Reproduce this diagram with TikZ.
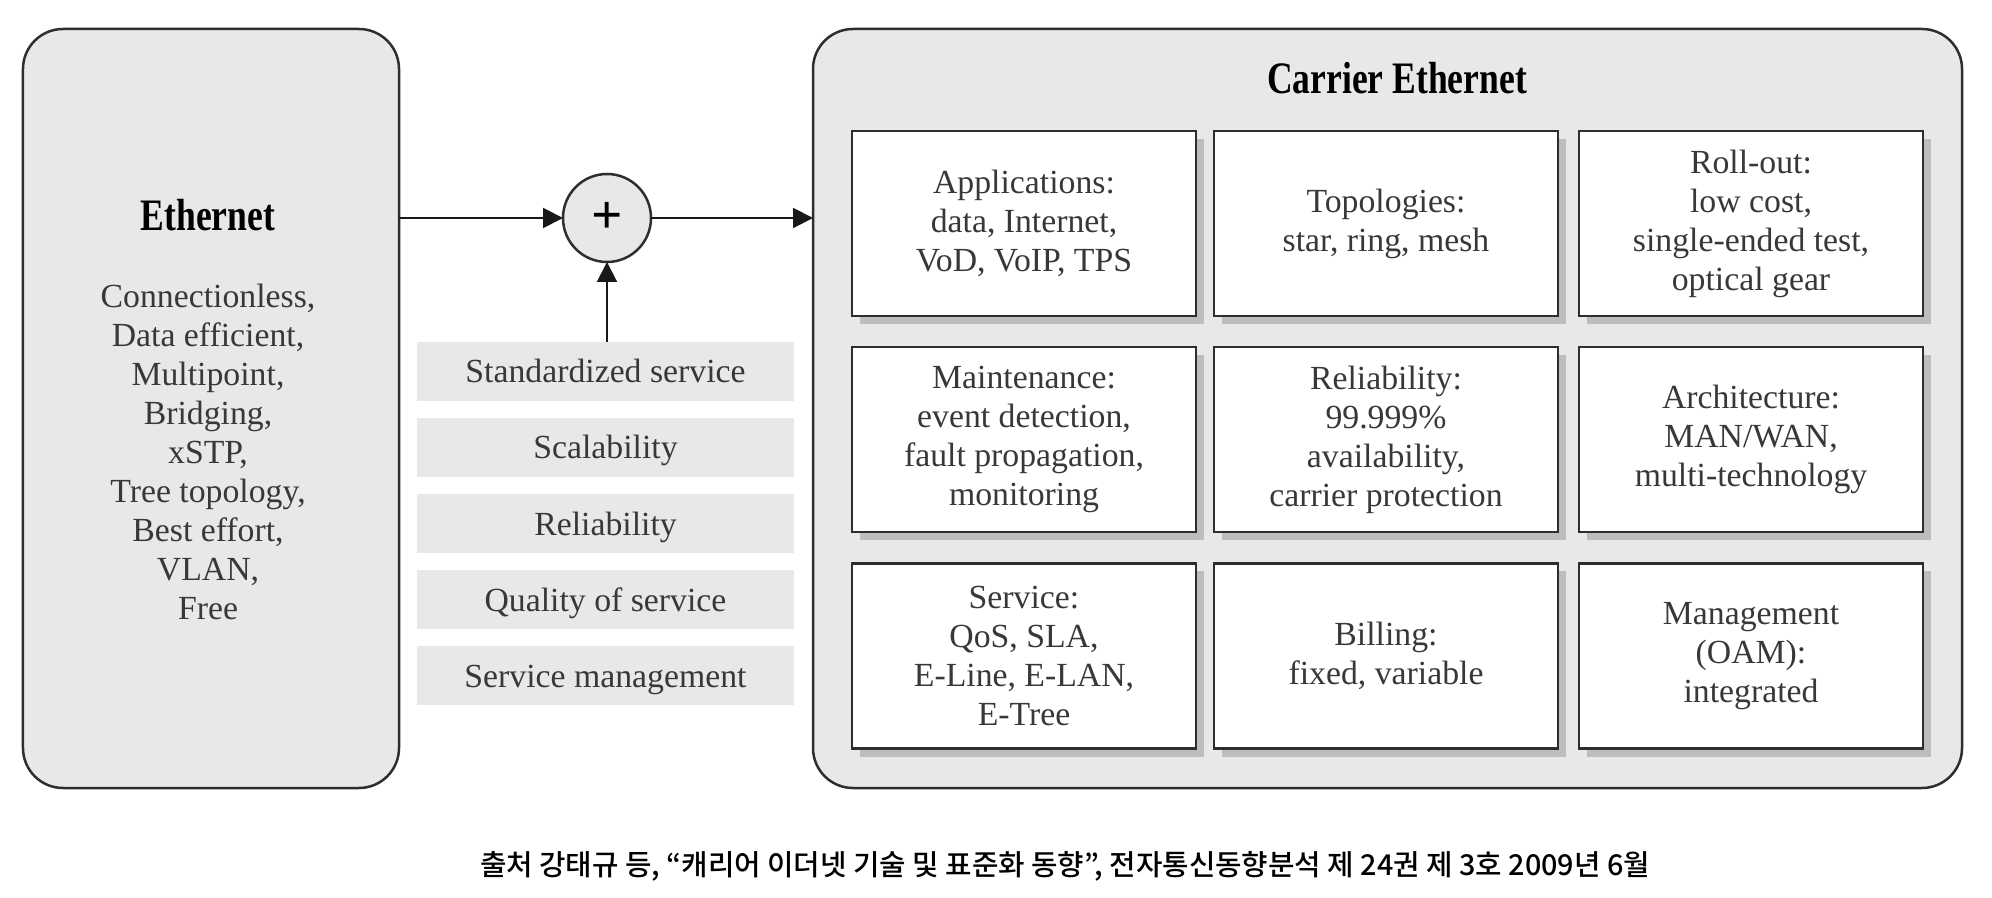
\documentclass[tikz,border=0pt]{standalone}
\usepackage{fontspec}
\usepackage{graphicx}
\setmainfont{Liberation Serif}
\newfontfamily\krfont{Noto Sans CJK KR Medium}
\usetikzlibrary{arrows.meta,shadows}
\definecolor{boxfill}{HTML}{E8E8E8}
\definecolor{edgec}{HTML}{2E2E2E}
\definecolor{shadowc}{HTML}{BDBDBD}
\definecolor{txtc}{HTML}{383838}
\newcommand\myBody{\fontsize{13.5}{15.6}\selectfont}
\newcommand\myTitle{\fontsize{18}{20}\selectfont\bfseries}
\begin{document}
\begin{tikzpicture}[x=0.4pt,y=-0.4pt,
  bigbox/.style={draw=edgec, line width=1pt, fill=boxfill, rounded corners=16pt, inner sep=0pt, outer sep=0pt},
  gridbox/.style={draw=edgec, line width=1pt, fill=white, minimum width=137.6pt, minimum height=74pt,
    inner sep=0pt, outer sep=0pt, align=center, text=txtc, font=\myBody,
    drop shadow={shadow xshift=3.2pt, shadow yshift=-3.2pt, fill=shadowc, opacity=1}},
  featbox/.style={fill=boxfill, minimum width=150.8pt, minimum height=23.6pt, inner sep=0pt, outer sep=0pt,
    text=txtc, font=\myBody, text height=9.2pt, text depth=0pt},
  titletext/.style={font=\myTitle, text=black, inner sep=0pt},
  arr/.style={draw=black!90, line width=0.8pt, -{Triangle[length=8pt,width=8pt]}}]
\useasboundingbox (0,0) rectangle (1992,898);

% left box
\node[bigbox, minimum width=150.4pt, minimum height=303.6pt] (eth) at (211,408.5) {};
\node[titletext] (ethtitle) at (208,215) {\scalebox{0.79}[1]{Ethernet}};
\node[align=center, text=txtc, font=\myBody, inner sep=0pt] (ethlist) at (208,452)
  {Connectionless,\\Data efficient,\\Multipoint,\\Bridging,\\xSTP,\\Tree topology,\\Best effort,\\VLAN,\\Free};

% right box
\node[bigbox, minimum width=459.6pt, minimum height=303.6pt] (ce) at (1387.5,408.5) {};
\node[titletext] (cetitle) at (1397,78) {\scalebox{0.79}[1]{Carrier Ethernet}};

% circle
\node[circle, draw=edgec, line width=1pt, fill=boxfill, minimum size=35.2pt, inner sep=0pt, outer sep=0pt,
  font=\fontsize{22}{22}\selectfont\bfseries] (plus) at (607,218) {+};

% feature boxes
\node[featbox] (f1) at (605.5,371.5) {Standardized service};
\node[featbox] (f2) at (605.5,447.5) {Scalability};
\node[featbox] (f3) at (605.5,523.5) {Reliability};
\node[featbox] (f4) at (605.5,599.5) {Quality of service};
\node[featbox] (f5) at (605.5,675.5) {Service management};

% arrows
\draw[arr] (eth.east |- plus.west) -- (plus.west);
\draw[arr] (plus.east) -- (ce.west |- plus.east);
\draw[arr] (f1.north -| plus.south) -- (plus.south);

% grid
\node[gridbox] (g11) at (1024,223.5) {Applications:\\data, Internet,\\VoD, VoIP, TPS};
\node[gridbox] (g12) at (1386,223.5) {Topologies:\\star, ring, mesh};
\node[gridbox] (g13) at (1751,223.5) {Roll-out:\\low cost,\\single-ended test,\\optical gear};
\node[gridbox] (g21) at (1024,439.5) {Maintenance:\\event detection,\\fault propagation,\\monitoring};
\node[gridbox] (g22) at (1386,439.5) {Reliability:\\99.999\%\\availability,\\carrier protection};
\node[gridbox] (g23) at (1751,439.5) {Architecture:\\MAN/WAN,\\multi-technology};
\node[gridbox] (g31) at (1024,656) {Service:\\QoS, SLA,\\E-Line, E-LAN,\\E-Tree};
\node[gridbox] (g32) at (1386,656) {Billing:\\fixed, variable};
\node[gridbox] (g33) at (1751,656) {Management\\(OAM):\\integrated};

% caption
\node[font=\krfont\fontsize{11.5}{13}\selectfont, text=black, inner sep=0pt] (cap) at (1065,866)
  {출처 강태규 등, “캐리어 이더넷 기술 및 표준화 동향”, 전자통신동향분석 제 24권 제 3호 2009년 6월};
\end{tikzpicture}
\end{document}
